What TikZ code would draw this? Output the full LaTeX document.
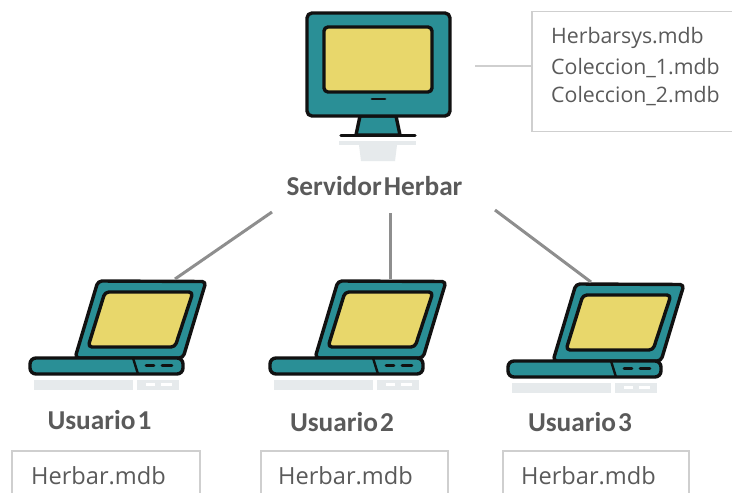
\documentclass[tikz,border=0pt]{standalone}
\usepackage{fontspec}
\setmainfont{Open Sans}
\newfontfamily\labelfont{Carlito}
\definecolor{teal1}{HTML}{2A8F96}
\definecolor{yel1}{HTML}{E8D76B}
\definecolor{ink}{HTML}{111111}
\definecolor{refl}{HTML}{E6EAEC}
\definecolor{wire}{HTML}{8E8E8E}
\definecolor{boxline}{HTML}{CFCFCF}
\definecolor{txt}{HTML}{5A5A5A}
\tikzset{
  part/.style={draw=ink,line width=3.4pt,line join=round,rounded corners=4pt},
  tealpart/.style={part,fill=teal1},
  screenpart/.style={part,fill=yel1},
  wireline/.style={draw=wire,line width=3pt},
  filewire/.style={draw=boxline,line width=1.6pt},
  filebox/.style={draw=boxline,line width=1.6pt,fill=white},
  filetext/.style={anchor=west,text=txt,font=\fontsize{21.3}{24}\selectfont,inner sep=0pt},
  usertext/.style={filetext,font=\fontsize{23.6}{27}\selectfont},
  hosttext/.style={anchor=center,text=txt,font=\labelfont\bfseries\fontsize{27.3}{31}\selectfont,inner sep=0pt},
}
\newcommand{\laptopicon}[4]{%
  \begin{scope}[shift={(#1,#2)}]
    \fill[refl] (34,380) rectangle (133,390);
    \fill[refl] (137,380) rectangle (179,390);
    \fill[white] (146,383) rectangle (155,386);
    \fill[white] (161,383) rectangle (172,386);
    \path[tealpart] (98,281) -- (206,281.5) -- (183,358) -- (75,358) -- cycle;
    \path[screenpart] (105,292) -- (193,292) -- (175,347) -- (88,347) -- cycle;
    \path[tealpart,rounded corners=6pt] (30,358) -- (183,358) -- (183,374) -- (30,374) -- cycle;
    \draw[draw=ink,line width=2.4pt] (133,358) -- (138,374);
    \draw[draw=ink,line width=2.8pt,line cap=round] (146,365.5) -- (154,365.5);
    \draw[draw=ink,line width=2.8pt,line cap=round] (162,365.5) -- (172,365.5);
    \coordinate (#3) at (#4,279);
  \end{scope}}
\begin{document}
\begin{tikzpicture}[x=1pt,y=-1pt]
\useasboundingbox (0,0) rectangle (732,493);
\fill[white] (0,0) rectangle (732,493);
% server
\fill[refl] (339,141) rectangle (416,145);
\fill[refl] (359,145) -- (397,145) -- (395,161) -- (361,161) -- cycle;
\path[tealpart,rounded corners=0pt] (360,116) -- (396,116) -- (400,135) -- (356,135) -- cycle;
\draw[draw=ink,line width=3.2pt,line cap=round] (341,135.5) -- (415,135.5);
\path[tealpart,rounded corners=5pt] (307,13) rectangle (450,116);
\path[screenpart] (324,27) rectangle (432,92);
\draw[draw=ink,line width=2.8pt,line cap=round] (372,99) -- (385,99);
\node[hosttext] (server) at (374.5,186) {Servidor\hspace{0.08em}Herbar};
\coordinate (srvA) at (272,212);
\coordinate (srvB) at (390,213);
\coordinate (srvC) at (495,210);
\coordinate (srvD) at (475,66);
% file box of the server
\node[filebox,minimum width=204pt,minimum height=120pt,anchor=north west,inner sep=0pt] (srvfiles) at (531,10.5) {};
\node[filetext] (f1) at (551,37.5) {Herbarsys.mdb};
\node[filetext] (f2) at (551,68.5) {Coleccion\_1.mdb};
\node[filetext] (f3) at (551,96.5) {Coleccion\_2.mdb};
\draw[filewire] (srvD) -- (srvfiles.west |- srvD);
% laptops
\laptopicon{0}{0}{lapA}{175}
\laptopicon{240}{0}{lapB}{150}
\laptopicon{478}{3}{lapC}{113}
\draw[wireline] (srvA) -- (lapA);
\draw[wireline] (srvB) -- (lapB);
\draw[wireline] (srvC) -- (lapC);
% labels
\node[hosttext] (u1) at (99.5,420.5) {Usuario\hspace{0.08em}1};
\node[hosttext] (u2) at (342,422.5) {Usuario\hspace{0.08em}2};
\node[hosttext] (u3) at (580,422.5) {Usuario\hspace{0.08em}3};
% user boxes
\node[filebox,minimum width=188pt,minimum height=60pt,anchor=north west,inner sep=0pt] (b1) at (11,450) {};
\node[filebox,minimum width=187pt,minimum height=60pt,anchor=north west,inner sep=0pt] (b2) at (260,450) {};
\node[filebox,minimum width=186pt,minimum height=60pt,anchor=north west,inner sep=0pt] (b3) at (502,450) {};
\node[usertext] (t1) at (31,476) {Herbar.mdb};
\node[usertext] (t2) at (278,476) {Herbar.mdb};
\node[usertext] (t3) at (521,476) {Herbar.mdb};
\end{tikzpicture}
\end{document}
